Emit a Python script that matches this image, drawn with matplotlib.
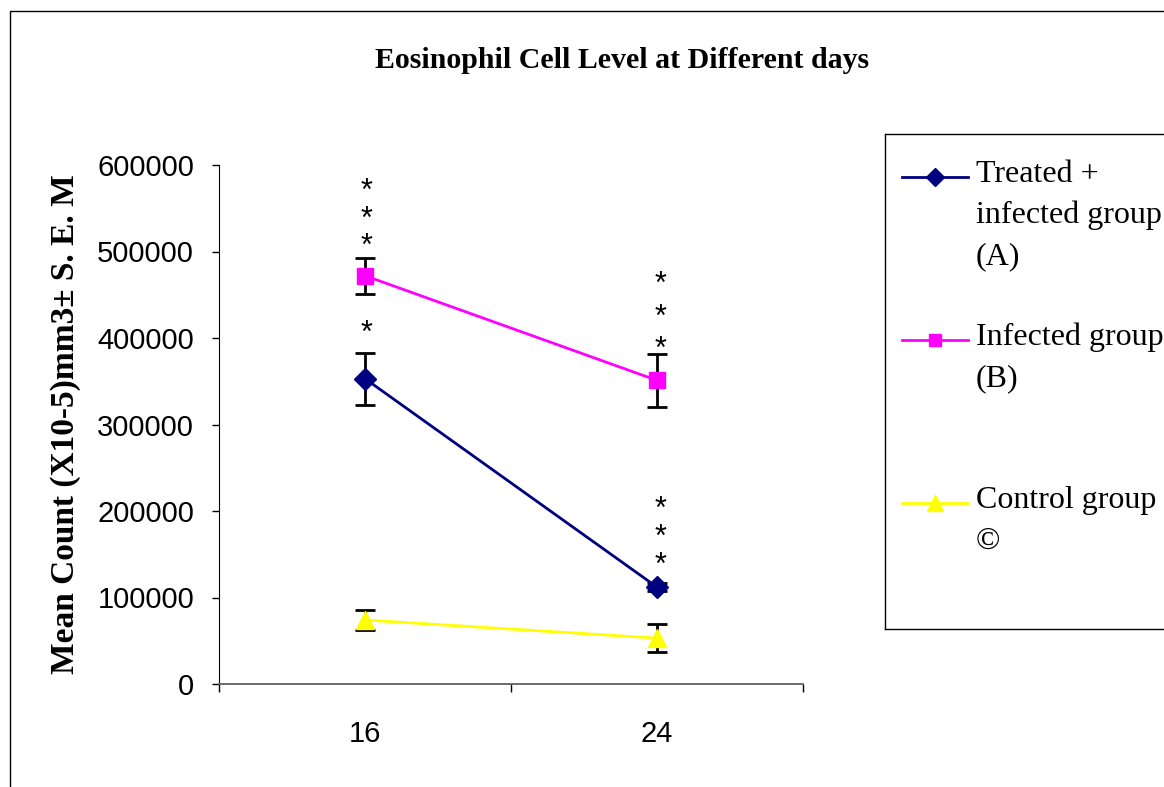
import numpy as np
import matplotlib.pyplot as plt
from matplotlib.lines import Line2D
from matplotlib.patches import Rectangle
from matplotlib.transforms import offset_copy

# dati
days = ["16", "24"]
treated = [353000, 112000]
treated_se = [30000, 5000]
infected = [472000, 351000]
infected_se = [21000, 31000]
control = [74000, 53000]
control_se = [11000, 16000]

# asterischi di significatività: (giorno, centro verticale, numero di asterischi)
star_day = [0, 0, 1, 1]
star_y = [544000, 412000, 431000, 176000]
star_n = [3, 1, 3, 3]
star_spacing = [0.9, 0.9, 1.12, 0.93]

labels = ["Treated +\ninfected group\n(A)", "Infected group\n(B)", "Control group\n©"]
colors = ["#000080", "#FF00FF", "#FFFF00"]
markers = ["D", "s", "^"]
msizes = [11, 11, 13]
leg_msizes = [9, 9, 11]

W, H = 1164, 787
fig = plt.figure(figsize=(W / 100, H / 100), dpi=100)

# cornice esterna
fig.add_artist(Rectangle((10 / W, -0.1), 1.2, 1 - 11 / H + 0.1, transform=fig.transFigure,
                         fill=False, edgecolor="black", linewidth=1.0))

ax = fig.add_axes([219 / W, (H - 684) / H, 584 / W, 519 / H])
x = np.arange(len(days)) + 0.5

series = [(treated, treated_se), (infected, infected_se), (control, control_se)]
for (vals, se), c, m, ms in zip(series, colors, markers, msizes):
    ax.errorbar(x, vals, yerr=se, fmt="none", ecolor="black", elinewidth=2,
                capsize=7, capthick=2, zorder=2)
    ax.plot(x, vals, color=c, marker=m, markersize=ms, linewidth=2, zorder=3)

# l'asterisco sta in alto nella riga: abbasso un po' il testo
star_tr = offset_copy(ax.transData, fig=fig, x=0, y=-4.5, units="points")
for d, y, n, ls in zip(star_day, star_y, star_n, star_spacing):
    ax.text(x[d] + 0.006 + 0.006 * d, y, "\n".join(["*"] * n), ha="center", va="center",
            fontsize=22, family="Liberation Sans", linespacing=ls, transform=star_tr)

ax.set_xlim(0, 2)
ax.set_ylim(0, 600000)
ax.set_yticks(np.arange(0, 600001, 100000))
ax.set_yticklabels([str(v) for v in range(0, 600001, 100000)], family="Liberation Sans", fontsize=21)
ax.set_xticks([0, 1, 2])
ax.set_xticklabels([])
ax.set_xticks(x, minor=True)
ax.set_xticklabels(days, minor=True, family="Liberation Sans", fontsize=21)
ax.tick_params(axis="x", which="minor", length=0, pad=26)
ax.tick_params(axis="x", which="major", length=6, width=1, color="black")
ax.tick_params(axis="y", length=5, width=1, pad=13)
ax.spines["top"].set_visible(False)
ax.spines["right"].set_visible(False)
ax.spines["bottom"].set_color("#606060")
ax.spines["bottom"].set_linewidth(1.3)

ax.set_ylabel("Mean Count (X10-5)mm3± S. E. M", family="Liberation Serif",
              fontweight="bold", fontsize=24)
ax.yaxis.set_label_coords(-0.237, 0.5)

fig.text(622 / W, 1 - 60 / H, "Eosinophil Cell Level at Different days",
         ha="center", va="center", family="Liberation Serif", fontweight="bold", fontsize=21.5)

# legenda disegnata a mano (riquadro tagliato a destra come nell'originale)
lax = fig.add_axes([885 / W, (H - 629) / H, 320 / W, (629 - 134) / H])
lax.set_xlim(885, 1205)
lax.set_ylim(629, 134)
lax.set_xticks([])
lax.set_yticks([])
for s in lax.spines.values():
    s.set_linewidth(1.0)
entry_y = [177, 340, 503]
for ey, lab, c, m, ms in zip(entry_y, labels, colors, markers, leg_msizes):
    lax.add_line(Line2D([902, 968], [ey, ey], color=c, linewidth=2))
    lax.add_line(Line2D([935], [ey], color=c, marker=m, markersize=ms, linestyle="none"))
    lax.text(976, ey - 17, lab, ha="left", va="top", family="Liberation Serif",
             fontsize=23, linespacing=1.53)

fig.savefig("out.png", dpi=100)
